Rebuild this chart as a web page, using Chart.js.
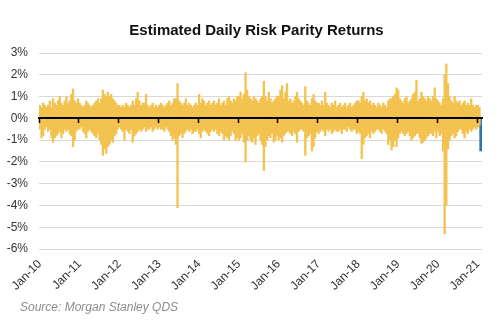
<!DOCTYPE html>
<html>
<head>
<meta charset="utf-8">
<script src="https://cdn.jsdelivr.net/npm/chart.js@4.4.0/dist/chart.umd.min.js"></script>
<style>
  html, body { margin: 0; padding: 0; background: #fff; }
  #wrap { width: 500px; height: 336px; }
</style>
</head>
<body>
<div id="wrap"><canvas id="riskParityChart" width="500" height="336"></canvas></div>
<script>
// Half-month buckets, Jan-10 .. Jan-21: biggest up day and biggest down day (%)
const gains = [
  0.6,0.5,0.7,0.6,0.5,0.6, 0.8,0.5,0.9,0.7,0.6,0.8, 1.0,0.7,0.6,0.8,1.0,0.7, 0.8,1.1,1.35,0.8,0.7,0.9, // 2010
  0.7,0.6,0.5,0.6,0.8,0.7, 0.6,0.5,0.6,0.7,0.8,0.9, 0.7,0.9,1.3,1.1,1.0,1.2, 1.0,1.1,0.9,0.8,0.7,0.6, // 2011
  0.6,0.5,0.6,0.5,0.7,0.6, 0.5,0.6,0.8,0.6,0.9,1.2, 0.8,0.6,0.7,0.7,1.1,0.6, 0.5,0.6,0.7,0.5,0.6,0.5, // 2012
  0.6,0.7,0.6,0.5,0.6,0.7, 0.8,0.6,0.7,0.9,0.9,1.6, 0.8,0.7,0.6,0.7,0.9,0.6, 0.7,0.6,0.5,0.6,0.7,0.6, // 2013
  1.1,0.7,0.9,0.8,0.6,0.7, 0.8,0.6,0.7,0.8,0.6,0.7, 0.9,0.6,0.7,0.8,0.6,0.9, 1.0,0.8,0.7,0.9,0.8,1.0, // 2014
  1.0,1.2,0.9,1.1,2.1,1.3, 1.0,0.9,0.8,1.0,0.9,0.8, 0.7,0.9,1.0,1.7,1.0,0.8, 1.2,0.9,0.7,0.8,0.9,1.0, // 2015
  1.0,1.3,1.5,0.9,1.2,1.6, 0.8,0.9,0.7,0.8,1.0,1.2, 0.9,0.8,0.7,0.6,1.45,0.8, 0.7,0.6,0.9,1.1,0.8,0.7, // 2016
  0.7,0.6,0.8,0.6,1.2,0.7, 0.6,0.5,0.7,0.6,0.8,0.5, 0.6,0.7,0.5,0.6,0.7,0.5, 0.6,0.7,0.5,0.6,0.7,0.8, // 2017
  0.8,0.7,1.0,1.2,0.8,0.9, 0.7,0.8,0.6,0.7,0.6,0.5, 0.7,0.6,0.5,0.7,0.6,0.5, 0.8,0.9,0.9,1.0,1.1,1.4, // 2018
  1.3,0.9,0.8,0.7,0.9,1.0, 0.7,0.8,0.9,1.1,1.2,1.75, 0.8,0.9,1.2,1.0,0.9,0.8, 1.0,0.9,0.8,1.0,1.4,0.9, // 2019
  0.8,0.7,0.6,0.9,2.0,2.5, 1.6,1.0,0.8,0.7,1.0,0.8, 0.7,0.8,0.6,0.7,0.8,0.6, 0.7,0.6,0.9,0.6,0.5,0.6, // 2020
  0.6,0.5,null                                                                                          // 2021
];
const losses = [
  -0.5,-0.9,-0.8,-0.5,-0.4,-0.6, -0.5,-0.9,-1.1,-0.9,-0.8,-0.7, -0.6,-0.9,-0.7,-0.5,-0.6,-0.5, -0.7,-0.8,-1.3,-1.0,-0.6,-0.5, // 2010
  -0.5,-0.4,-0.6,-0.7,-0.9,-0.6, -0.5,-0.6,-0.7,-0.8,-0.9,-0.7, -1.0,-1.2,-1.7,-1.4,-1.6,-1.3, -1.2,-1.0,-1.1,-0.8,-0.7,-0.5, // 2011
  -0.4,-0.5,-0.6,-1.0,-0.5,-0.6, -0.7,-0.5,-1.1,-0.8,-0.7,-0.6, -0.5,-0.6,-0.5,-0.4,-0.6,-0.5, -0.5,-0.4,-0.6,-0.5,-0.4,-0.5, // 2012
  -0.4,-0.5,-0.5,-0.6,-0.4,-0.5, -0.6,-0.8,-1.0,-0.9,-1.2,-4.1, -0.8,-0.7,-0.9,-0.7,-0.6,-0.5, -0.6,-0.5,-0.7,-0.6,-0.6,-0.5, // 2013
  -0.7,-0.9,-0.6,-0.5,-0.6,-0.7, -0.8,-0.6,-0.5,-0.6,-0.5,-0.7, -0.8,-0.6,-0.7,-1.0,-0.8,-0.9, -1.0,-0.8,-0.6,-0.7,-1.0,-0.9, // 2014
  -1.0,-0.9,-0.7,-1.1,-2.0,-1.0, -0.8,-1.0,-1.1,-0.9,-1.2,-0.8, -0.7,-1.0,-1.2,-2.4,-1.3,-1.0, -0.8,-0.9,-0.7,-1.1,-1.0,-0.8, // 2015
  -1.0,-0.9,-1.1,-0.8,-0.7,-0.6, -0.6,-0.7,-0.8,-0.6,-0.7,-1.1, -0.6,-0.5,-0.5,-0.6,-1.7,-0.9, -0.8,-0.7,-1.5,-1.3,-0.9,-0.6, // 2016
  -0.7,-0.6,-0.5,-0.6,-0.8,-0.5, -0.6,-0.5,-0.7,-0.6,-0.5,-0.6, -0.6,-0.5,-0.7,-0.5,-0.5,-0.6, -0.4,-0.5,-0.6,-0.5,-0.5,-0.7, // 2017
  -0.6,-0.7,-1.85,-1.2,-0.9,-0.8, -0.7,-0.9,-0.6,-0.7,-0.6,-0.5, -0.5,-0.6,-0.7,-0.5,-0.6,-0.7, -1.2,-1.0,-1.45,-1.3,-1.0,-1.3, // 2018
  -0.9,-0.7,-0.6,-0.7,-0.8,-0.7, -0.6,-0.8,-1.0,-0.9,-0.8,-0.7, -0.7,-0.9,-1.15,-1.1,-1.0,-0.9, -0.8,-0.7,-0.7,-0.8,-0.6,-0.9, // 2019
  -0.6,-0.8,-0.7,-1.5,-5.3,-4.0, -1.4,-1.0,-0.8,-0.7,-0.9,-0.8, -0.6,-0.5,-0.5,-0.7,-0.9,-0.6, -0.7,-0.5,-0.6,-0.5,-0.4,-0.5, // 2020
  -0.4,-0.3,null                                                                                                          // 2021
];
const latestReturn = -1.5; // last day, shown in blue

const tickLabels = ["Jan-10", "Jan-11", "Jan-12", "Jan-13", "Jan-14", "Jan-15",
                    "Jan-16", "Jan-17", "Jan-18", "Jan-19", "Jan-20", "Jan-21"];
const yTicks = [3, 2, 1, 0, -1, -2, -3, -4, -5, -6];
const titleText = "Estimated Daily Risk Parity Returns";
const sourceText = "Source: Morgan Stanley QDS";

// category per half month, the first half carries the "Mon-YY" name
const months = ["Jan","Feb","Mar","Apr","May","Jun","Jul","Aug","Sep","Oct","Nov","Dec"];
const categories = [];
for (let y = 2010; y <= 2021; y++) {
  months.forEach((m, i) => {
    if (y === 2021 && i > 1) return;
    const name = m + "-" + String(y).slice(2);
    categories.push(name);
    if (!(y === 2021 && i === 1)) categories.push(name + " late");
  });
}
const latest = categories.map((c, i) => i === categories.length - 1 ? latestReturn : null);

const FONT = '"Liberation Sans", Arial, sans-serif';

// title and source line sit off-centre in the original, so they are placed by hand
const captions = {
  id: "captions",
  afterDraw(chart) {
    const c = chart.ctx;
    c.save();
    c.textBaseline = "middle";
    c.font = "bold 15px " + FONT;
    c.fillStyle = "#111";
    c.textAlign = "center";
    c.fillText(titleText, 256.5, 31);
    c.font = "italic 12px " + FONT;
    c.fillStyle = "#8c8c8c";
    c.textAlign = "left";
    c.fillText(sourceText, 20, 308);
    c.restore();
  }
};

const ctx = document.getElementById("riskParityChart").getContext("2d");
new Chart(ctx, {
  type: "bar",
  data: {
    labels: categories,
    datasets: [
      { label: "up", data: gains, backgroundColor: "#F3C24F", barPercentage: 1, categoryPercentage: 1 },
      { label: "down", data: losses, backgroundColor: "#F3C24F", barPercentage: 1, categoryPercentage: 1 },
      { label: "latest", data: latest, backgroundColor: "#2F74AB", barThickness: 3 }
    ]
  },
  options: {
    responsive: false,
    animation: false,
    layout: { padding: { left: 0, right: 0, top: 53, bottom: 44 } },
    plugins: {
      legend: { display: false },
      tooltip: { enabled: false },
      title: { display: false }
    },
    scales: {
      x: {
        position: { y: 0 },
        stacked: true,
        offset: true,
        z: 1,
        grid: {
          offset: true,
          z: 1,
          drawOnChartArea: false,
          tickLength: 4,
          tickWidth: 1.5,
          tickColor: c => tickLabels.includes(categories[c.index]) ? "#000" : "rgba(0,0,0,0)"
        },
        border: { display: true, color: "#000", width: 2, z: 1 },
        ticks: { display: false, autoSkip: false }
      },
      x2: {
        type: "category",
        position: "bottom",
        offset: true,
        grid: { display: false, offset: true },
        border: { display: false },
        ticks: {
          autoSkip: false,
          minRotation: 45,
          maxRotation: 45,
          padding: 0,
          color: "#333",
          font: { family: FONT, size: 12 },
          callback: (v, i) => tickLabels.includes(categories[i]) ? categories[i] : ""
        },
        afterFit: s => { s.height = 43; s.paddingLeft = 0; s.paddingRight = 0; }
      },
      y: {
        min: -6,
        max: 3,
        afterBuildTicks: s => { s.ticks = yTicks.map(v => ({ value: v })); },
        ticks: {
          padding: 11,
          color: "#333",
          font: { family: FONT, size: 12 },
          callback: v => v + "%"
        },
        grid: { color: "#d9d9d9", drawTicks: false },
        border: { display: false },
        afterFit: s => { s.width = 39; s.paddingTop = 0; s.paddingBottom = 0; }
      },
      yr: {
        position: "right",
        grid: { display: false },
        border: { display: false },
        ticks: { display: false },
        afterFit: s => { s.width = 18; }
      }
    }
  },
  plugins: [captions]
});
</script>
</body>
</html>
